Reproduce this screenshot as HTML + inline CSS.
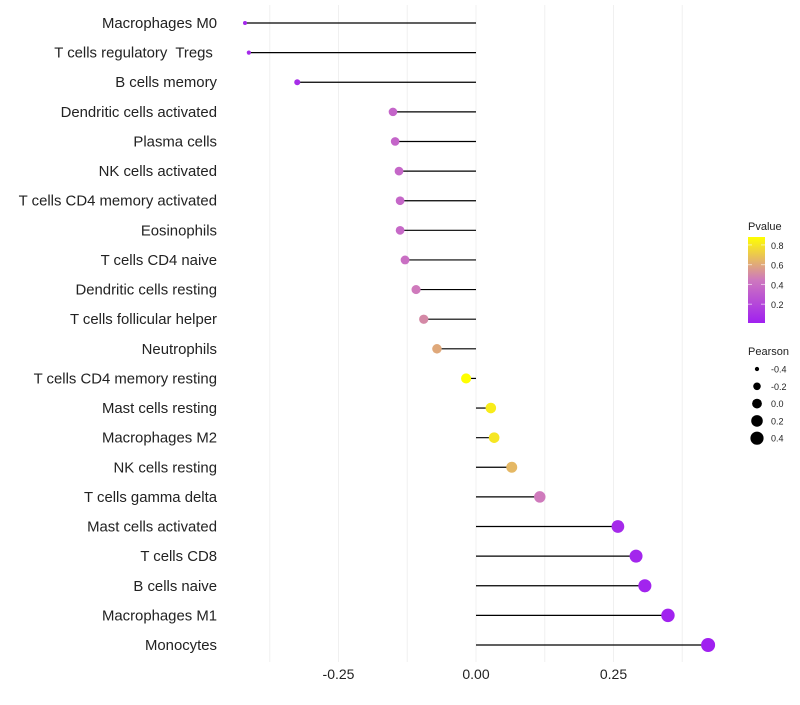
<!DOCTYPE html>
<html><head><meta charset="utf-8"><style>
body{margin:0;background:#fff;font-family:"Liberation Sans",sans-serif}
</style></head><body>
<svg id="chart" width="800" height="700" xmlns="http://www.w3.org/2000/svg"></svg>
<script>
const cells=["Macrophages M0","T cells regulatory  Tregs ","B cells memory","Dendritic cells activated","Plasma cells","NK cells activated","T cells CD4 memory activated","Eosinophils","T cells CD4 naive","Dendritic cells resting","T cells follicular helper","Neutrophils","T cells CD4 memory resting","Mast cells resting","Macrophages M2","NK cells resting","T cells gamma delta","Mast cells activated","T cells CD8","B cells naive","Macrophages M1","Monocytes"];
const pearson=[-0.42,-0.413,-0.325,-0.151,-0.147,-0.14,-0.138,-0.138,-0.129,-0.109,-0.095,-0.071,-0.018,0.027,0.033,0.065,0.116,0.258,0.291,0.307,0.349,0.422];
const pvalue=[0.05,0.06,0.08,0.35,0.35,0.36,0.36,0.37,0.4,0.45,0.5,0.6,0.88,0.82,0.8,0.65,0.45,0.06,0.04,0.03,0.02,0.01];
const xTicks=[-0.25,0,0.25];
const xTickLabels=["-0.25","0.00","0.25"];
const colorTicks=[0.2,0.4,0.6,0.8];
const sizeTicks=[-0.4,-0.2,0.0,0.2,0.4];

const NS="http://www.w3.org/2000/svg";
const svg=document.getElementById('chart');
function el(t,a){const e=document.createElementNS(NS,t);for(const k in a)e.setAttribute(k,a[k]);svg.appendChild(e);return e;}
const X=v=>476+v*550;
const Y=i=>23+i*(622/21);
const rad=v=>Math.sqrt(Math.max(3,26.5+53.6*v));
function lerp(a,b,t){return a.map((x,i)=>Math.round(x+(b[i]-x)*t));}
function pcol(p){const t=Math.max(0,Math.min(1,(p-0.01)/(0.88-0.01)));
 const c0=[160,32,240],c1=[206,120,190],c2=[255,255,0];
 const c=t<0.5?lerp(c0,c1,t/0.5):lerp(c1,c2,(t-0.5)/0.5);return `rgb(${c})`;}
for(let g=-0.375;g<=0.38;g+=0.125){
 const gl=el('line',{x1:X(g),x2:X(g),y1:5,y2:662,stroke:'#f0f0f0','stroke-width':1});
 
 
}
xTicks.forEach((t,i)=>{
 const tx=el('text',{x:X(t),y:679,'text-anchor':'middle','font-size':14,fill:'#222'});
 tx.textContent=xTickLabels[i];
 
 
});
cells.forEach((c,i)=>{
 const y=Y(i);
 const lb=el('text',{x:217,y:y+5,'text-anchor':'end','font-size':14.9,fill:'#222'});
 lb.setAttribute('xml:space','preserve');
 lb.style.whiteSpace='pre';
 lb.textContent=c;
 
 
 const ln=el('line',{x1:X(0),x2:X(pearson[i]),y1:y,y2:y,stroke:'#000','stroke-width':1.2});
 
 
 const d=el('circle',{cx:X(pearson[i]),cy:y,r:rad(pearson[i]),fill:pcol(pvalue[i])});
 
 
});
const defs=el('defs',{});
const lg=document.createElementNS(NS,'linearGradient');lg.setAttribute('id','pg');lg.setAttribute('x1','0');lg.setAttribute('x2','0');lg.setAttribute('y1','1');lg.setAttribute('y2','0');
[0,0.25,0.5,0.75,1].forEach(o=>{const s=document.createElementNS(NS,'stop');s.setAttribute('offset',o);s.setAttribute('stop-color',pcol(0.01+o*0.87));lg.appendChild(s);});
defs.appendChild(lg);
const lt=el('text',{x:748,y:230,'font-size':11,fill:'#222'});lt.textContent='Pvalue';


const PY=p=>323-(p-0.01)/(0.87)*86;
const cb=el('rect',{x:748,y:PY(0.88),width:17,height:86,fill:'url(#pg)'});


colorTicks.forEach(t=>{
 const tl=el('text',{x:771,y:PY(t)+4,'font-size':9,fill:'#222'});tl.textContent=t.toFixed(1);
 
 
 el('line',{x1:748,x2:752,y1:PY(t),y2:PY(t),stroke:'#fff','stroke-opacity':0.6});
 el('line',{x1:761,x2:765,y1:PY(t),y2:PY(t),stroke:'#fff','stroke-opacity':0.6});
});
const st=el('text',{x:748,y:355,'font-size':11,fill:'#222'});st.textContent='Pearson';


sizeTicks.forEach((t,i)=>{
 const y=369+i*17.3;
 const sc=el('circle',{cx:757,cy:y,r:rad(t)*0.95,fill:'#000'});
 
 
 const sl=el('text',{x:771,y:y+3.5,'font-size':9,fill:'#222'});sl.textContent=t.toFixed(1);
 
 
});
</script>
</body></html>
